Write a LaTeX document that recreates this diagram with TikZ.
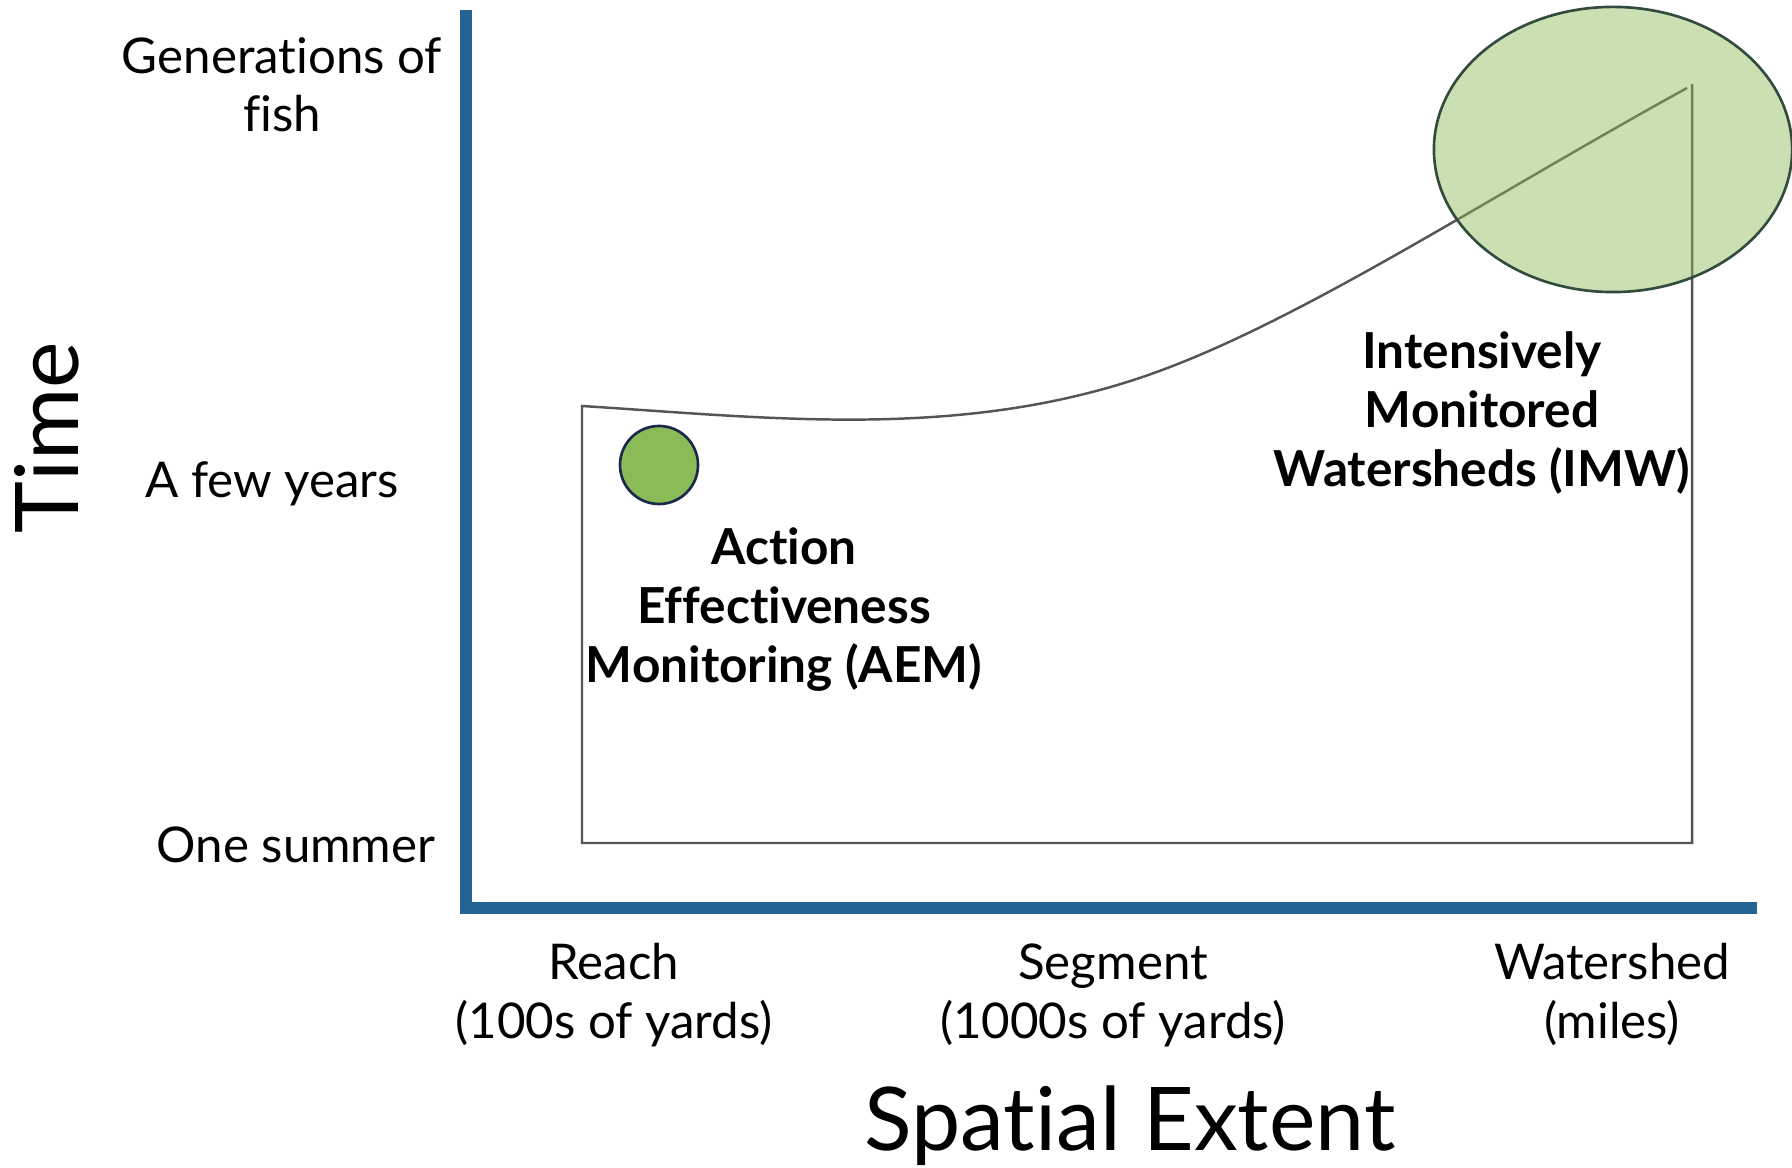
\documentclass[tikz,border=0pt]{standalone}
\usepackage{fontspec}
\setmainfont{Lato}[Ligatures=NoCommon]
\usetikzlibrary{shapes.geometric}
\definecolor{axisblue}{RGB}{36,100,148}
\definecolor{linegray}{RGB}{85,85,85}
\definecolor{leafgreen}{RGB}{139,187,86}
\definecolor{rimgreen}{RGB}{50,75,60}
\definecolor{rimnavy}{RGB}{25,40,75}
\begin{document}
\begin{tikzpicture}[x=0.01cm,y=-0.01cm,
  axisline/.style={line width=3.4pt, draw=axisblue, line join=miter},
  frameline/.style={line width=0.7pt, draw=linegray},
  ticklab/.style={font=\fontsize{14}{16.5}\selectfont, align=center, anchor=base, inner sep=0pt},
  boldlab/.style={font=\fontsize{14.1}{16.8}\selectfont\bfseries, align=center, anchor=base, inner sep=0pt},
  axistitle/.style={font=\fontsize{25}{30}\selectfont, inner sep=0pt}]

% canvas
\fill[white] (0,0) rectangle (1792,1168);
\useasboundingbox (0,0) rectangle (1792,1168);

% axes
\draw[axisline] (466,10) -- (466,908) -- (1757,908);

% monitoring envelope: straight sides and bottom, curved upper edge
\coordinate (envtl) at (582,406);
\coordinate (envmid) at (1154,373);
\coordinate (envtr) at (1687,88);
\draw[frameline] (1692,84) -- (1692,843) -- (582,843) -- (envtl)
  .. controls (772,418) and (964,441) .. (envmid)
  .. controls (1304,319) and (1487,198) .. (envtr);

% study-scale markers
\node[ellipse, draw=rimgreen, line width=0.75pt, fill=leafgreen, fill opacity=0.45,
      minimum width=3.58cm, minimum height=2.85cm, inner sep=0pt] (imw) at (1613,149.5) {};
\node[circle, draw=rimnavy, line width=0.75pt, fill=leafgreen,
      minimum size=0.78cm, inner sep=0pt] (aem) at (659,465) {};

% time axis (multi-line labels are anchored at their last baseline)
\node[axistitle, rotate=90] (time) at (47,438) {Time};
\node[ticklab] (gen) at (282,132) {Generations of\\fish};
\node[ticklab] (few) at (272,498) {A few years};
\node[ticklab] (one) at (296,862) {One summer};

% spatial axis
\node[ticklab] (reach) at (614,1038) {Reach\\(100s of yards)};
\node[ticklab] (seg) at (1113,1038) {Segment\\(1000s of yards)};
\node[ticklab] (ws) at (1612,1038) {Watershed\\(miles)};
\node[axistitle, anchor=base] (spat) at (1130,1150) {Spatial Extent};

% program labels
\node[boldlab] (aemlab) at (784,683) {Action\\Effectiveness\\Monitoring (AEM)};
\node[boldlab] (imwlab) at (1482,487) {Intensively\\Monitored\\Watersheds (IMW)};
\end{tikzpicture}
\end{document}
